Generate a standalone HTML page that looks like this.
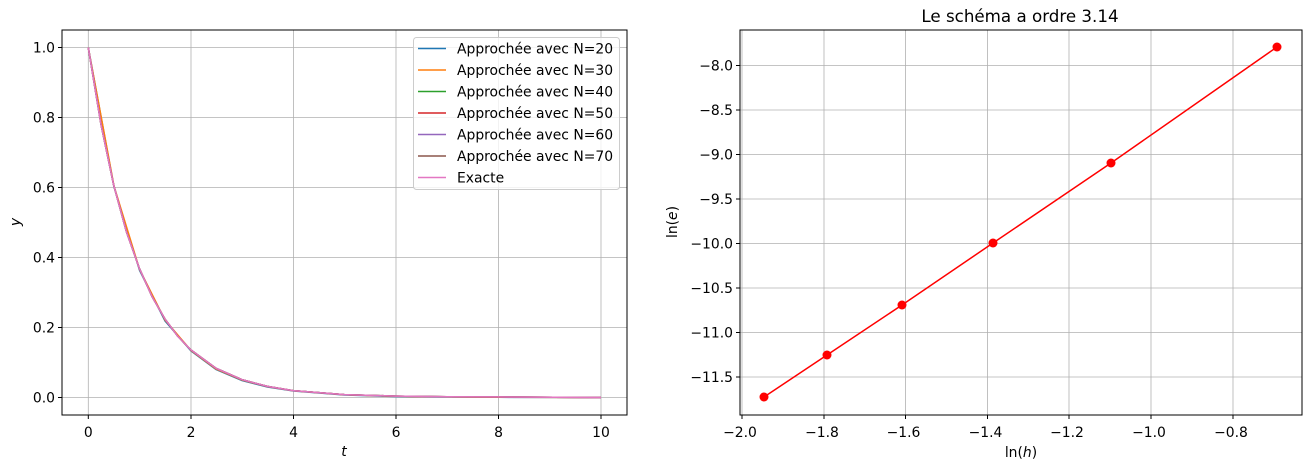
<!DOCTYPE html>
<html><head><meta charset="utf-8"><style>
body{margin:0;background:#fff}
svg{display:block}
text{font-family:"DejaVu Sans","Liberation Sans",sans-serif;font-size:13.9px;fill:#000}
text.title{font-size:16.7px}
.g{stroke:#b0b0b0;stroke-width:0.8}
</style></head><body>
<svg width="1312" height="470" xmlns="http://www.w3.org/2000/svg">
<!-- LEFT -->
<g class="g">
<line x1="88.3" y1="30" x2="88.3" y2="415"/><line x1="191" y1="30" x2="191" y2="415"/><line x1="293.5" y1="30" x2="293.5" y2="415"/><line x1="396" y1="30" x2="396" y2="415"/><line x1="498.5" y1="30" x2="498.5" y2="415"/><line x1="601" y1="30" x2="601" y2="415"/>
<line x1="62" y1="397.5" x2="627" y2="397.5"/><line x1="62" y1="327.5" x2="627" y2="327.5"/><line x1="62" y1="257.5" x2="627" y2="257.5"/><line x1="62" y1="187.5" x2="627" y2="187.5"/><line x1="62" y1="117.5" x2="627" y2="117.5"/><line x1="62" y1="47.5" x2="627" y2="47.5"/>
</g>
<g fill="none" stroke-width="1.5">
<path stroke="#1f77b4" d="M88.3,47.5 L114,187 L139.6,270.5 L165,321 L191,351 L216,369.5 L242,380.5 L267.5,387 L293.5,391 L344.5,395 L396,396.5 L447,397 L498.5,397.3 L601,397.5"/>
<path stroke="#ff7f0e" d="M88.3,47.5 L114,186 L139.6,269.5 L165,320 L191,350.5 L216,369 L242,380 L267.5,386.7 L293.5,390.8 L344.5,394.8 L396,396.3 L447,396.9 L498.5,397.2 L601,397.5"/>
<path stroke="#2ca02c" d="M88.3,47.5 L101,124.4 L113.6,184.7 L126.4,231.7 L139.3,268.2 L152.1,296.7 L164.9,318.9 L177.7,336.2 L190.5,349.6 L216.1,368.3 L241.8,379.6 L267.4,386.4 L293,390.6 L344.3,394.6 L395.5,396.1 L446.8,396.7 L498,396.9 L601,397.5"/>
<path stroke="#d62728" d="M88.3,47.5 L101,124.4 L113.6,184.7 L126.4,231.7 L139.3,268.2 L152.1,296.7 L164.9,318.9 L177.7,336.2 L190.5,349.6 L216.1,368.3 L241.8,379.6 L267.4,386.4 L293,390.6 L344.3,394.6 L395.5,396.1 L446.8,396.7 L498,396.9 L601,397.5"/>
<path stroke="#9467bd" d="M88.3,47.5 L101,124.4 L113.6,184.7 L126.4,231.7 L139.3,268.2 L152.1,296.7 L164.9,318.9 L177.7,336.2 L190.5,349.6 L216.1,368.3 L241.8,379.6 L267.4,386.4 L293,390.6 L344.3,394.6 L395.5,396.1 L446.8,396.7 L498,396.9 L601,397.5"/>
<path stroke="#8c564b" d="M88.3,47.5 L101,124.4 L113.6,184.7 L126.4,231.7 L139.3,268.2 L152.1,296.7 L164.9,318.9 L177.7,336.2 L190.5,349.6 L216.1,368.3 L241.8,379.6 L267.4,386.4 L293,390.6 L344.3,394.6 L395.5,396.1 L446.8,396.7 L498,396.9 L601,397.5"/>
<path stroke="#e377c2" d="M88.3,47.5 L101,124.4 L113.6,184.7 L126.4,231.7 L139.3,268.2 L152.1,296.7 L164.9,318.9 L177.7,336.2 L190.5,349.6 L216.1,368.3 L241.8,379.6 L267.4,386.4 L293,390.6 L344.3,394.6 L395.5,396.1 L446.8,396.7 L498,396.9 L601,397.5"/>
</g>
<rect x="62" y="30" width="565" height="385" fill="none" stroke="#000" stroke-width="1"/>
<g stroke="#000"><line x1="88.3" y1="415" x2="88.3" y2="419"/><line x1="191" y1="415" x2="191" y2="419"/><line x1="293.5" y1="415" x2="293.5" y2="419"/><line x1="396" y1="415" x2="396" y2="419"/><line x1="498.5" y1="415" x2="498.5" y2="419"/><line x1="601" y1="415" x2="601" y2="419"/>
<line x1="58" y1="397.5" x2="62" y2="397.5"/><line x1="58" y1="327.5" x2="62" y2="327.5"/><line x1="58" y1="257.5" x2="62" y2="257.5"/><line x1="58" y1="187.5" x2="62" y2="187.5"/><line x1="58" y1="117.5" x2="62" y2="117.5"/><line x1="58" y1="47.5" x2="62" y2="47.5"/></g>
<g text-anchor="middle"><text x="88.3" y="437">0</text><text x="191" y="437">2</text><text x="293.5" y="437">4</text><text x="396" y="437">6</text><text x="498.5" y="437">8</text><text x="601" y="437">10</text></g>
<g text-anchor="end"><text x="55" y="402.5">0.0</text><text x="55" y="332.5">0.2</text><text x="55" y="262.5">0.4</text><text x="55" y="192.5">0.6</text><text x="55" y="122.5">0.8</text><text x="55" y="52.5">1.0</text></g>
<text x="344" y="456" text-anchor="middle" font-style="italic">t</text>
<text x="20" y="222" text-anchor="middle" font-style="italic" transform="rotate(-90 20 222)">y</text>
<rect x="413.5" y="37.5" width="206" height="152" rx="3" fill="#fff" fill-opacity="0.8" stroke="#ccc"/>
<g stroke-width="1.5">
<line x1="418" y1="48.5" x2="446" y2="48.5" stroke="#1f77b4"/><line x1="418" y1="70" x2="446" y2="70" stroke="#ff7f0e"/><line x1="418" y1="91.5" x2="446" y2="91.5" stroke="#2ca02c"/><line x1="418" y1="113" x2="446" y2="113" stroke="#d62728"/><line x1="418" y1="134.5" x2="446" y2="134.5" stroke="#9467bd"/><line x1="418" y1="156" x2="446" y2="156" stroke="#8c564b"/><line x1="418" y1="177.5" x2="446" y2="177.5" stroke="#e377c2"/>
</g>
<g><text x="457" y="53.5">Approchée avec N=20</text><text x="457" y="75">Approchée avec N=30</text><text x="457" y="96.5">Approchée avec N=40</text><text x="457" y="118">Approchée avec N=50</text><text x="457" y="139.5">Approchée avec N=60</text><text x="457" y="161">Approchée avec N=70</text><text x="457" y="182.5">Exacte</text></g>

<!-- RIGHT -->
<g class="g">
<line x1="742" y1="30" x2="742" y2="415"/><line x1="824" y1="30" x2="824" y2="415"/><line x1="905.5" y1="30" x2="905.5" y2="415"/><line x1="987.5" y1="30" x2="987.5" y2="415"/><line x1="1069" y1="30" x2="1069" y2="415"/><line x1="1151" y1="30" x2="1151" y2="415"/><line x1="1233" y1="30" x2="1233" y2="415"/>
<line x1="740" y1="65.5" x2="1302" y2="65.5"/><line x1="740" y1="110" x2="1302" y2="110"/><line x1="740" y1="154.5" x2="1302" y2="154.5"/><line x1="740" y1="199" x2="1302" y2="199"/><line x1="740" y1="243.5" x2="1302" y2="243.5"/><line x1="740" y1="288" x2="1302" y2="288"/><line x1="740" y1="332.5" x2="1302" y2="332.5"/><line x1="740" y1="377" x2="1302" y2="377"/>
</g>
<polyline fill="none" stroke="#ff0000" stroke-width="1.5" points="764,397 827,355 902,305 993,243 1111,163 1277,47"/>
<g fill="#ff0000"><circle cx="764" cy="397" r="4.5"/><circle cx="827" cy="355" r="4.5"/><circle cx="902" cy="305" r="4.5"/><circle cx="993" cy="243" r="4.5"/><circle cx="1111" cy="163" r="4.5"/><circle cx="1277" cy="47" r="4.5"/></g>
<rect x="740" y="30" width="562" height="385" fill="none" stroke="#000" stroke-width="1"/>
<g stroke="#000"><line x1="742" y1="415" x2="742" y2="419"/><line x1="824" y1="415" x2="824" y2="419"/><line x1="905.5" y1="415" x2="905.5" y2="419"/><line x1="987.5" y1="415" x2="987.5" y2="419"/><line x1="1069" y1="415" x2="1069" y2="419"/><line x1="1151" y1="415" x2="1151" y2="419"/><line x1="1233" y1="415" x2="1233" y2="419"/>
<line x1="736" y1="65.5" x2="740" y2="65.5"/><line x1="736" y1="110" x2="740" y2="110"/><line x1="736" y1="154.5" x2="740" y2="154.5"/><line x1="736" y1="199" x2="740" y2="199"/><line x1="736" y1="243.5" x2="740" y2="243.5"/><line x1="736" y1="288" x2="740" y2="288"/><line x1="736" y1="332.5" x2="740" y2="332.5"/><line x1="736" y1="377" x2="740" y2="377"/></g>
<g text-anchor="middle"><text x="740" y="437">−2.0</text><text x="822" y="437">−1.8</text><text x="903.5" y="437">−1.6</text><text x="985.5" y="437">−1.4</text><text x="1067" y="437">−1.2</text><text x="1149" y="437">−1.0</text><text x="1231" y="437">−0.8</text></g>
<g text-anchor="end"><text x="733" y="70.5">−8.0</text><text x="733" y="115">−8.5</text><text x="733" y="159.5">−9.0</text><text x="733" y="204">−9.5</text><text x="733" y="248.5">−10.0</text><text x="733" y="293">−10.5</text><text x="733" y="337.5">−11.0</text><text x="733" y="382">−11.5</text></g>
<text x="1021" y="457" text-anchor="middle">ln(<tspan font-style="italic">h</tspan>)</text>
<text x="677" y="222" text-anchor="middle" transform="rotate(-90 677 222)">ln(<tspan font-style="italic">e</tspan>)</text>
<text class="title" x="1020" y="22" text-anchor="middle">Le schéma a ordre 3.14</text>
</svg>
</body></html>
